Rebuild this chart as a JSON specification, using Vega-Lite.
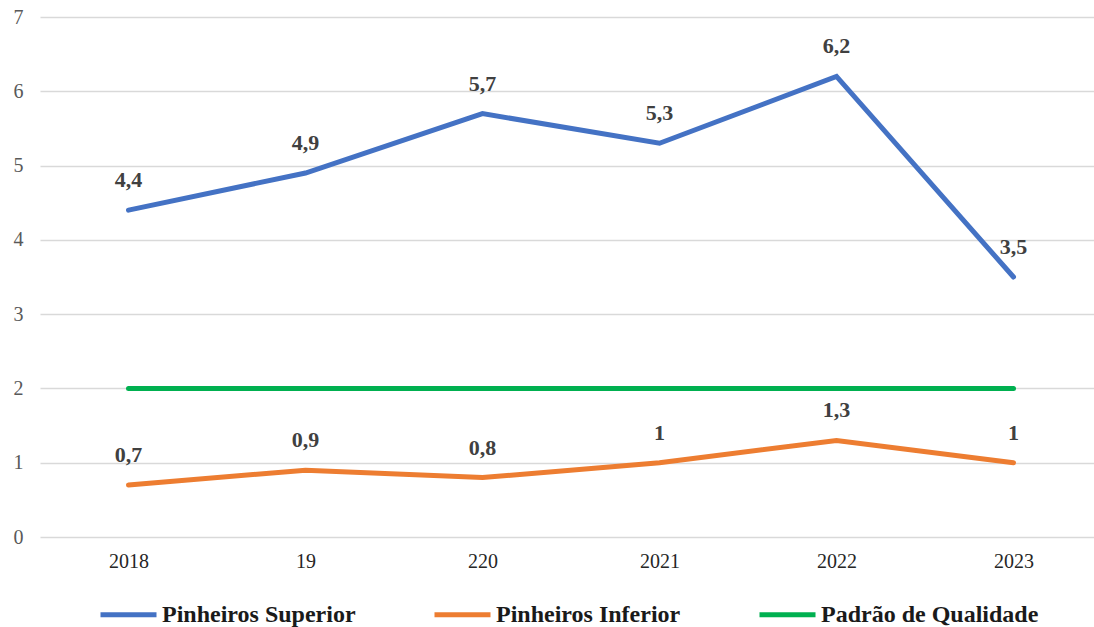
{
  "$schema": "https://vega.github.io/schema/vega-lite/v6.json",
  "autosize": "none",
  "width": 1054,
  "height": 520,
  "padding": {"left": 40, "top": 17, "right": 0, "bottom": 90},
  "background": "white",
  "config": {
    "view": {"stroke": null},
    "locale": {"number": {"decimal": ",", "thousands": ".", "grouping": [3], "currency": ["R$", ""]}},
    "font": "'Liberation Serif', 'Times New Roman', serif"
  },
  "data": {
    "values": [
      {"ano": "2018", "serie": "Pinheiros Superior", "valor": 4.4},
      {"ano": "19", "serie": "Pinheiros Superior", "valor": 4.9},
      {"ano": "220", "serie": "Pinheiros Superior", "valor": 5.7},
      {"ano": "2021", "serie": "Pinheiros Superior", "valor": 5.3},
      {"ano": "2022", "serie": "Pinheiros Superior", "valor": 6.2},
      {"ano": "2023", "serie": "Pinheiros Superior", "valor": 3.5},
      {"ano": "2018", "serie": "Pinheiros Inferior", "valor": 0.7},
      {"ano": "19", "serie": "Pinheiros Inferior", "valor": 0.9},
      {"ano": "220", "serie": "Pinheiros Inferior", "valor": 0.8},
      {"ano": "2021", "serie": "Pinheiros Inferior", "valor": 1},
      {"ano": "2022", "serie": "Pinheiros Inferior", "valor": 1.3},
      {"ano": "2023", "serie": "Pinheiros Inferior", "valor": 1},
      {"ano": "2018", "serie": "Padrão de Qualidade", "valor": 2},
      {"ano": "19", "serie": "Padrão de Qualidade", "valor": 2},
      {"ano": "220", "serie": "Padrão de Qualidade", "valor": 2},
      {"ano": "2021", "serie": "Padrão de Qualidade", "valor": 2},
      {"ano": "2022", "serie": "Padrão de Qualidade", "valor": 2},
      {"ano": "2023", "serie": "Padrão de Qualidade", "valor": 2}
    ]
  },
  "encoding": {
    "x": {
      "field": "ano",
      "type": "ordinal",
      "sort": ["2018", "19", "220", "2021", "2022", "2023"],
      "scale": {"type": "point", "padding": 0.5, "range": [0, 1062]},
      "axis": {
        "title": null,
        "domain": false,
        "ticks": false,
        "grid": false,
        "labelAngle": 0,
        "labelFont": "'Liberation Serif', 'Times New Roman', serif",
        "labelFontSize": 20,
        "labelColor": "#262626",
        "labelPadding": 14
      }
    },
    "y": {
      "field": "valor",
      "type": "quantitative",
      "scale": {"domain": [0, 7], "nice": false},
      "axis": {
        "title": null,
        "domain": false,
        "ticks": false,
        "values": [0, 1, 2, 3, 4, 5, 6, 7],
        "labelOverlap": false,
        "grid": true,
        "gridColor": "#d9d9d9",
        "gridWidth": 1.5,
        "labelFont": "'Liberation Serif', 'Times New Roman', serif",
        "labelFontSize": 20,
        "labelColor": "#595959",
        "labelPadding": 17
      }
    }
  },
  "layer": [
    {
      "mark": {"type": "line", "strokeWidth": 5, "strokeCap": "round", "strokeJoin": "miter"},
      "encoding": {
        "color": {
          "field": "serie",
          "type": "nominal",
          "scale": {
            "domain": ["Pinheiros Superior", "Pinheiros Inferior", "Padrão de Qualidade"],
            "range": ["#4472C4", "#ED7D31", "#00B050"]
          },
          "legend": {
            "title": null,
            "orient": "none",
            "direction": "horizontal",
            "legendX": 58,
            "legendY": 567,
            "symbolType": "stroke",
            "symbolSize": 3136,
            "symbolStrokeWidth": 5,
            "labelFont": "'Liberation Serif', 'Times New Roman', serif",
            "labelFontSize": 24,
            "labelFontWeight": "bold",
            "labelColor": "#1a1a1a",
            "labelOffset": 3,
            "columnPadding": 68,
            "labelLimit": 400
          }
        }
      }
    },
    {
      "transform": [{"filter": "datum.serie !== 'Padrão de Qualidade'"}],
      "mark": {
        "type": "text",
        "dy": -30,
        "baseline": "middle",
        "font": "'Liberation Serif', 'Times New Roman', serif",
        "fontSize": 22,
        "fontWeight": "bold",
        "color": "#404040"
      },
      "encoding": {
        "text": {"field": "valor", "type": "quantitative", "format": "~g"}
      }
    }
  ]
}
